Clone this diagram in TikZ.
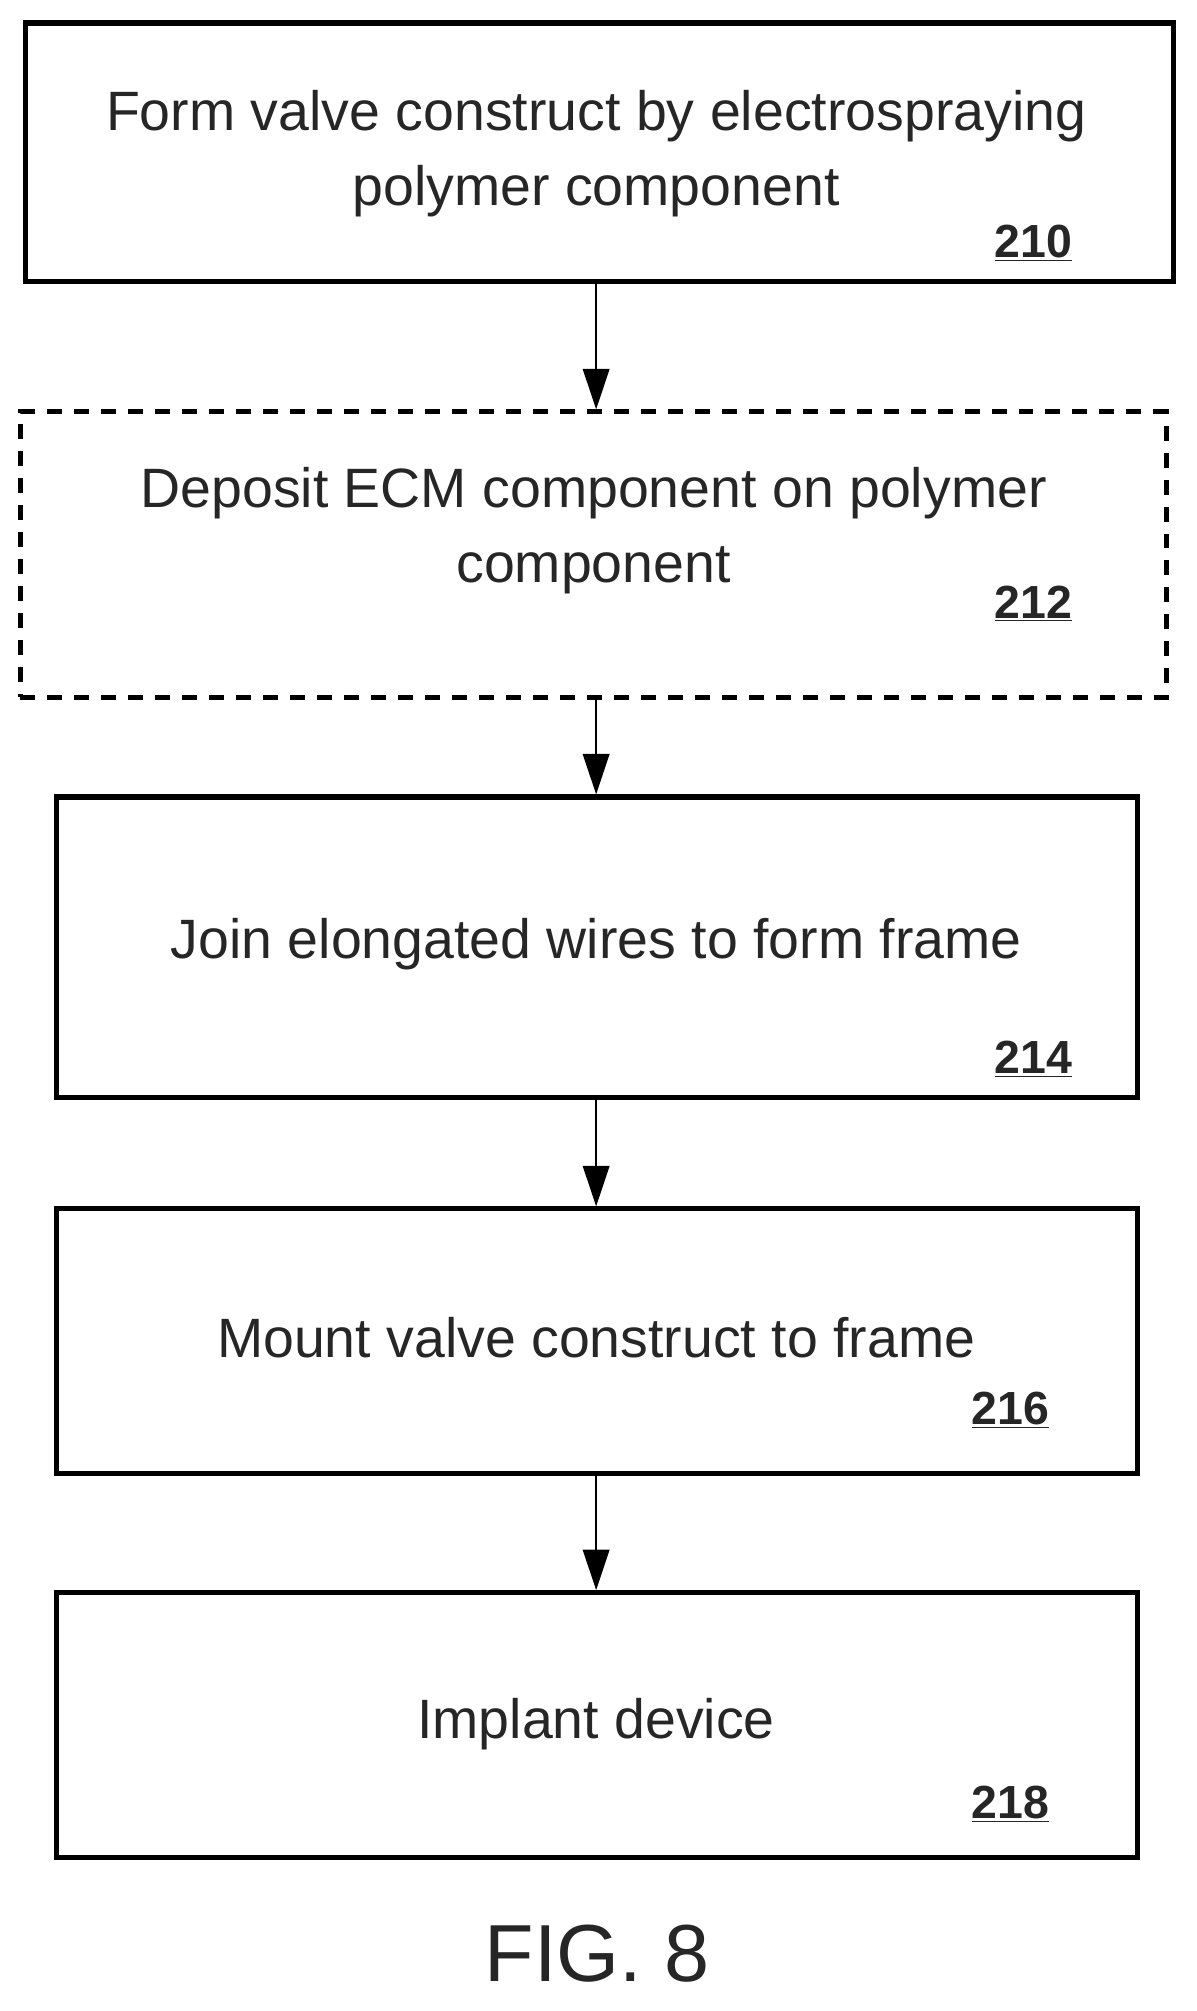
\documentclass[tikz,border=0pt]{standalone}
\usepackage{fontspec}
\setmainfont{Liberation Sans}
\usetikzlibrary{arrows.meta}
\tikzset{stepbox/.style={draw, line width=3.4pt, rectangle, inner sep=0pt},
         optbox/.style={stepbox, dash pattern=on 10pt off 8pt},
         txt/.style={align=center, font=\fontsize{37}{50}\selectfont, text=black!85},
         num/.style={font=\fontsize{31}{32}\selectfont\bfseries, text=black!85},
         flow/.style={line width=1.6pt, -{Triangle[width=0.62cm,length=0.95cm]}}}
\begin{document}
\begin{tikzpicture}[x=0.03cm,y=-0.03cm]
\useasboundingbox (0,0) rectangle (935,1572);
% boxes
\node[stepbox, minimum width=897*0.03cm, minimum height=202*0.03cm] (s210) at (468.5,119) {};
\node[optbox, minimum width=896*0.03cm, minimum height=223*0.03cm] (s212) at (464,433.5) {};
\node[stepbox, minimum width=845*0.03cm, minimum height=235*0.03cm] (s214) at (466.5,740.5) {};
\node[stepbox, minimum width=845*0.03cm, minimum height=207*0.03cm] (s216) at (466.5,1048.5) {};
\node[stepbox, minimum width=845*0.03cm, minimum height=207*0.03cm] (s218) at (466.5,1348.5) {};
% texts
\node[txt] (t210) at (466,120) {Form valve construct by electrospraying\\polymer component};
\node[txt] (t212) at (464,415) {Deposit ECM component on polymer\\component};
\node[txt] (t214) at (466,738) {Join elongated wires to form frame};
\node[txt] (t216) at (466,1046) {Mount valve construct to frame};
\node[txt] (t218) at (466,1348) {Implant device};
% reference numbers
\node[num] (n210) at (808,190) {\underline{210}};
\node[num] (n212) at (808,472) {\underline{212}};
\node[num] (n214) at (808,828) {\underline{214}};
\node[num] (n216) at (790,1102) {\underline{216}};
\node[num] (n218) at (790,1410) {\underline{218}};
% arrows
\coordinate (ax) at (466,0);
\draw[flow] (s210.south -| ax) -- (s212.north -| ax);
\draw[flow] (s212.south -| ax) -- (s214.north -| ax);
\draw[flow] (s214.south -| ax) -- (s216.north -| ax);
\draw[flow] (s216.south -| ax) -- (s218.north -| ax);
\node[font=\fontsize{54}{60}\selectfont, text=black!85] (fig) at (467,1527) {FIG. 8};
\end{tikzpicture}
\end{document}
